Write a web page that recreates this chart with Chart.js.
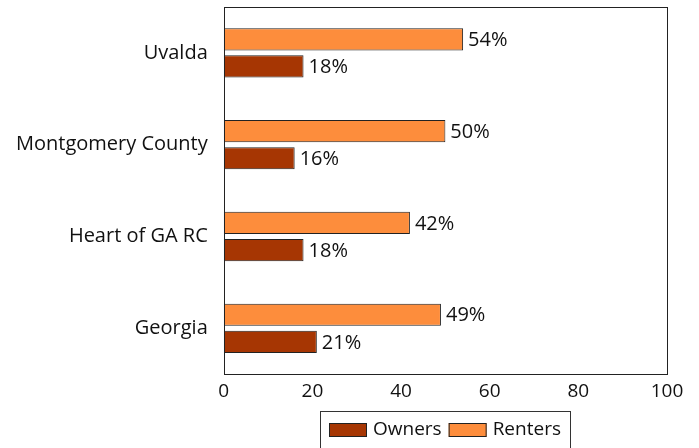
<!DOCTYPE html>
<html>
<head>
<meta charset="utf-8">
<script src="https://cdn.jsdelivr.net/npm/chart.js@4/dist/chart.umd.min.js"></script>
<style>
html,body{margin:0;padding:0;background:#fff;}
#wrap{width:699px;height:448px;position:relative;}
</style>
</head>
<body>
<div id="wrap"><canvas id="c" width="699" height="448"></canvas></div>
<script>
const categories = ["Uvalda", "Montgomery County", "Heart of GA RC", "Georgia"];
const owners = [18, 16, 18, 21];
const renters = [54, 50, 42, 49];
const xTicks = [0, 20, 40, 60, 80, 100];
const legendOrder = ["Owners", "Renters"];

const FONT = "'Open Sans', 'DejaVu Sans', sans-serif";

const framePlugin = {
  id: 'frame',
  afterDraw(chart) {
    const ctx = chart.ctx, a = chart.chartArea;
    ctx.save();
    ctx.strokeStyle = '#222';
    ctx.lineWidth = 1;
    ctx.strokeRect(Math.round(a.left) + 0.5, Math.round(a.top) + 0.5, Math.round(a.right - a.left), Math.round(a.bottom - a.top));
    // value labels
    ctx.fillStyle = '#111';
    ctx.font = "20px " + FONT;
    ctx.textBaseline = 'middle';
    ctx.textAlign = 'left';
    chart.data.datasets.forEach((ds, di) => {
      const meta = chart.getDatasetMeta(di);
      meta.data.forEach((bar, i) => {
        ctx.fillText(ds.data[i] + '%', bar.x + 5, bar.y + 1);
      });
    });
    // custom legend
    ctx.font = "19px " + FONT;
    const items = legendOrder.map(name => chart.data.datasets.find(d => d.label === name));
    const boxW = 38, boxH = 14, gapBT = 6, gapItems = 7, padX = 9;
    const widths = items.map(d => boxW + gapBT + ctx.measureText(d.label).width);
    const total = widths.reduce((s, w) => s + w, 0) + gapItems * (items.length - 1) + padX * 2;
    const cx = (a.left + a.right) / 2;
    const lx = Math.round(cx - total / 2), ly = Math.round(a.bottom + 37);
    ctx.strokeStyle = '#333';
    ctx.strokeRect(lx + 0.5, ly + 0.5, Math.round(total), 60);
    let x = lx + padX;
    const cy = ly + 19;
    items.forEach((d, i) => {
      ctx.fillStyle = d.backgroundColor;
      ctx.fillRect(x, cy - boxH / 2, boxW, boxH);
      ctx.strokeStyle = '#222';
      ctx.strokeRect(x + 0.5, cy - boxH / 2 + 0.5, boxW - 1, boxH - 1);
      ctx.fillStyle = '#111';
      ctx.textBaseline = 'middle';
      ctx.fillText(d.label, x + boxW + gapBT, cy);
      x += widths[i] + gapItems;
    });
    ctx.restore();
  }
};

new Chart(document.getElementById('c'), {
  type: 'bar',
  data: {
    labels: categories,
    datasets: [
      { label: 'Renters', data: renters, backgroundColor: '#fd8d3c', borderColor: '#222', borderWidth: 1, borderSkipped: false },
      { label: 'Owners', data: owners, backgroundColor: '#a63603', borderColor: '#222', borderWidth: 1, borderSkipped: false }
    ]
  },
  options: {
    indexAxis: 'y',
    responsive: false,
    animation: false,
    datasets: { bar: { categoryPercentage: 0.59, barPercentage: 0.82 } },
    layout: { padding: { top: 7, right: 32, left: 0, bottom: 39 } },
    scales: {
      x: {
        min: 0, max: 100,
        afterBuildTicks(scale) { scale.ticks = xTicks.map(v => ({ value: v })); },
        afterFit(scale) { scale.paddingRight = 0; scale.paddingLeft = 0; },
        grid: { display: false, drawTicks: false },
        border: { display: false },
        ticks: { color: '#111', font: { family: FONT, size: 19 }, padding: 6 }
      },
      y: {
        afterFit(scale) { scale.paddingTop = 0; scale.paddingBottom = 0; },
        grid: { display: false, drawTicks: false },
        border: { display: false },
        ticks: { color: '#111', font: { family: FONT, size: 20 }, padding: 16 }
      }
    },
    plugins: {
      legend: { display: false },
      tooltip: { enabled: false }
    }
  },
  plugins: [framePlugin]
});
</script>
</body>
</html>
